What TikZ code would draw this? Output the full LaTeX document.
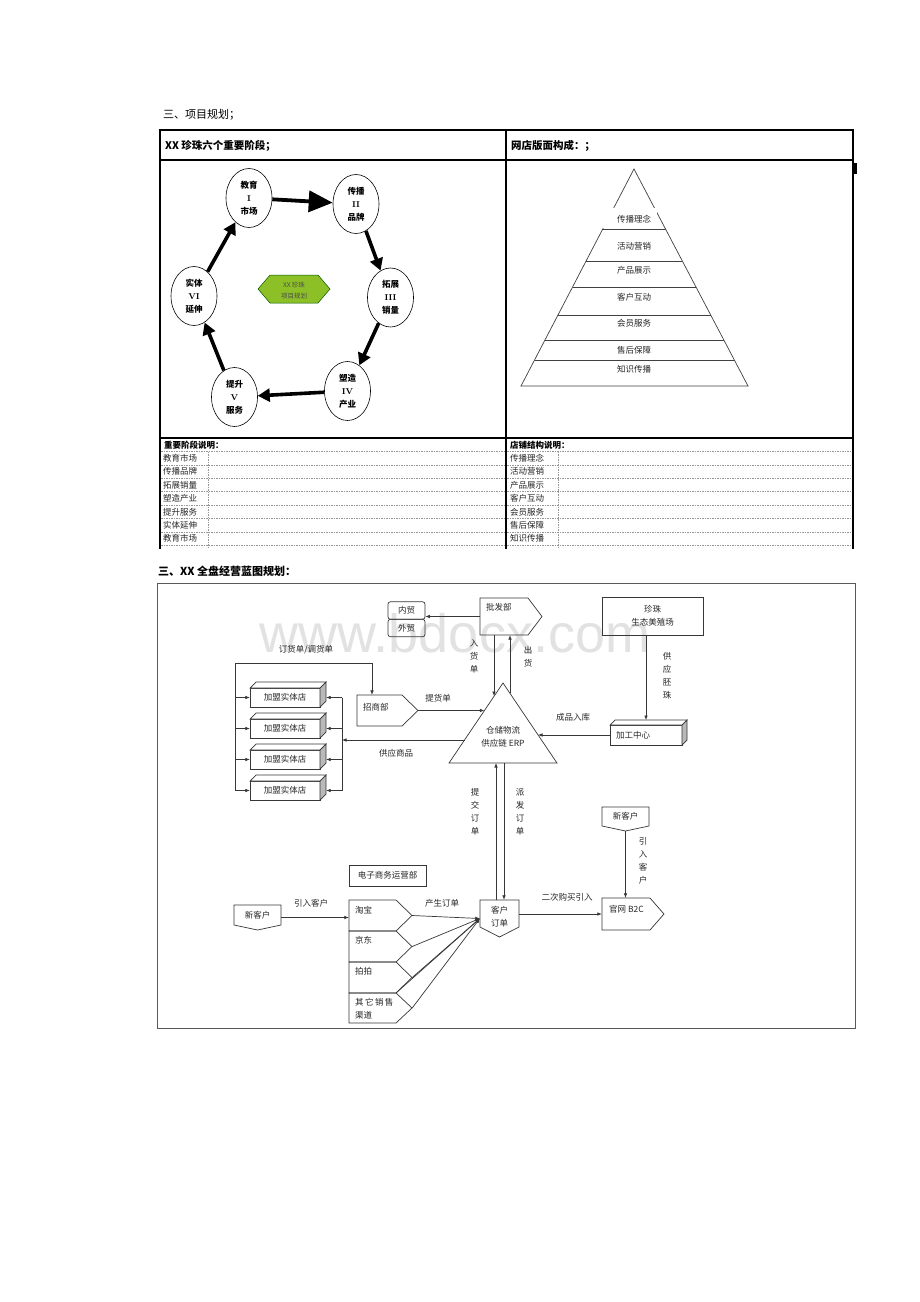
\documentclass[tikz,border=0pt]{standalone}
\usepackage{fontspec}
\newfontfamily\cjk{Noto Sans CJK SC}
\newfontfamily\wmfont{Liberation Sans}
\usetikzlibrary{arrows.meta,shapes.geometric,fit,calc}
\definecolor{hexgreen}{RGB}{140,192,38}
\definecolor{lin}{RGB}{55,55,55}
\definecolor{wmgray}{RGB}{226,226,226}
\definecolor{dashgray}{RGB}{150,150,150}
\tikzset{
  lbl/.style={font=\cjk\fontsize{8.5}{13}\selectfont, inner sep=0pt, text=black!85},
  boldlbl/.style={font=\cjk\bfseries\fontsize{8.5}{13}\selectfont, inner sep=0pt},
  hdr/.style={font=\cjk\bfseries\fontsize{10.5}{13}\selectfont, inner sep=0pt, anchor=west},
  shp/.style={draw=lin, line width=0.7pt},
  ln/.style={draw=lin, line width=0.7pt},
  arr/.style={ln, -{Latex[length=4.5pt,width=3.6pt]}},
  tb/.style={draw=black, line width=2.3pt},
  rowdash/.style={draw=dashgray, line width=0.5pt, dash pattern=on 1.5pt off 1pt},
  cyc/.style={ellipse, draw=black, line width=0.6pt, minimum width=46, minimum height=59, inner sep=0pt, align=center, font=\cjk\bfseries\fontsize{8.5}{13}\selectfont},
  bigarr/.style={line width=3.6pt, -{Triangle[length=12pt,width=13pt]}},
}
\newcommand\rpent[6]{%
  \node[fit={(#2,#3)(#4,#5)},inner sep=0pt] (#1) {};
  \draw[shp] (#2,#3) -- (#6,#3) -- (#4,{(#3+#5)/2}) -- (#6,#5) -- (#2,#5) -- cycle;}
\newcommand\dpent[6]{%
  \node[fit={(#2,#3)(#4,#5)},inner sep=0pt] (#1) {};
  \draw[shp] (#2,#3) -- (#4,#3) -- (#4,#6) -- ({(#2+#4)/2},#5) -- (#2,#6) -- cycle;}
\newcommand\cubox[6]{%
  \node[fit={(#2,#3)({#4+#6},#5)},inner sep=0pt] (#1) {};
  \draw[shp,fill=white] (#2,#3) rectangle (#4,#5);
  \draw[shp,fill=white] (#2,#3) -- ({#2+#6},{#3-#6}) -- ({#4+#6},{#3-#6}) -- (#4,#3) -- cycle;
  \draw[shp,fill=gray!55] (#4,#3) -- ({#4+#6},{#3-#6}) -- ({#4+#6},{#5-#6}) -- (#4,#5) -- cycle;}
\begin{document}
\begin{tikzpicture}[x=1pt,y=-1pt]
\useasboundingbox (0,0) rectangle (920,1302);
\fill[white] (0,0) rectangle (920,1302);

% ---------------- Section 1 ----------------
\node[font=\cjk\fontsize{11}{13}\selectfont, inner sep=0pt, anchor=west] (title1) at (163,115) {三、项目规划；};

% table frame
\draw[tb] (158.9,130) -- (854.1,130);
\draw[tb] (160,130) -- (160,549);
\draw[tb] (853,130) -- (853,549);
\draw[tb] (506,130) -- (506,549);
\draw[tb] (160,160) -- (853,160);
\draw[black, line width=1.2pt] (160,438) -- (853,438);
\draw[line width=2.5pt] (855.5,163) -- (855.5,174);

\node[hdr] (h1) at (165,146) {XX 珍珠六个重要阶段；};
\node[hdr] (h2) at (511,146) {网店版面构成：；};

% cycle of six stages
\node[cyc] (e1) at (249,198) {教育\\{\rmfamily\bfseries I}\\市场};
\node[cyc] (e2) at (356,204) {传播\\{\rmfamily\bfseries II}\\品牌};
\node[cyc] (e3) at (390.5,297.5) {拓展\\{\rmfamily\bfseries III}\\销量};
\node[cyc] (e4) at (347.5,391) {塑造\\{\rmfamily\bfseries IV}\\产业};
\node[cyc] (e5) at (234.5,397) {提升\\{\rmfamily\bfseries V}\\服务};
\node[cyc] (e6) at (194,296) {实体\\{\rmfamily\bfseries VI}\\延伸};
\draw[line width=3.8pt, -{Triangle[length=24pt,width=21pt]}] (e1) -- (e2);
\draw[bigarr] (e2) -- (e3);
\draw[bigarr] (e3) -- (e4);
\draw[bigarr] (e4) -- (e5);
\draw[bigarr] (e5) -- (e6);
\draw[bigarr] (e6) -- (e1);

\fill[hexgreen, draw=green!35!black, line width=0.5pt] (258,289) -- (270,275) -- (318,275) -- (330,289) -- (318,303) -- (270,303) -- cycle;
\node[font=\cjk\fontsize{6.5}{11}\selectfont, text=black!70, align=center, inner sep=0pt] (hex) at (294,290.5) {XX 珍珠\\项目规划};

% pyramid
\draw[line width=0.7pt, draw=black!75] (634,169) -- (748,386) -- (521,386) -- cycle;
\foreach \yy in {229,261,287,315,340,360}
  \draw[line width=0.7pt, draw=black!75] ({634-(\yy-169)/217*113},\yy) -- ({634+(\yy-169)/217*114},\yy);
\fill[white] (600,208) rectangle (657,228);
\node[lbl] (p1) at (634,219) {传播理念};
\node[lbl] (p2) at (634,246) {活动营销};
\node[lbl] (p3) at (634,270) {产品展示};
\node[lbl] (p4) at (634,297) {客户互动};
\node[lbl] (p5) at (634,323) {会员服务};
\node[lbl] (p6) at (634,350) {售后保障};
\node[lbl] (p7) at (634,369) {知识传播};

% sub tables
\node[boldlbl, anchor=west] (sh1) at (164,445) {重要阶段说明：};
\node[boldlbl, anchor=west] (sh2) at (510,445) {店铺结构说明：};
\foreach \i in {0,...,7} {
  \draw[rowdash] (161.2,{451.5+13.4*\i}) -- (504.8,{451.5+13.4*\i});
  \draw[rowdash] (507.2,{451.5+13.4*\i}) -- (851.8,{451.5+13.4*\i});
}
\draw[rowdash] (208,451.5) -- (208,549);
\draw[rowdash] (558,451.5) -- (558,549);
\foreach \t [count=\i from 0] in {教育市场,传播品牌,拓展销量,塑造产业,提升服务,实体延伸,教育市场}
  \node[lbl, anchor=west] (la\i) at (163,{458.2+13.4*\i}) {\t};
\foreach \t [count=\i from 0] in {传播理念,活动营销,产品展示,客户互动,会员服务,售后保障,知识传播}
  \node[lbl, anchor=west] (lb\i) at (510,{458.2+13.4*\i}) {\t};

% ---------------- Section 2 ----------------
\node[font=\cjk\bfseries\fontsize{11}{13}\selectfont, inner sep=0pt, anchor=west] (title2) at (158,571) {三、XX 全盘经营蓝图规划：};
\draw[draw=black!65, line width=0.8pt] (157,583) rectangle (855,1028);

% watermark
\node[font=\wmfont\fontsize{54}{54}\selectfont, text=wmgray, anchor=base, inner sep=0pt] (wm) at (455,652) {www.bdocx.com};

% nodes
\node[shp, rounded corners=2.5pt, minimum width=37, minimum height=17.5, inner sep=0pt, lbl] (nm) at (406.5,610.5) {内贸};
\node[shp, rounded corners=2.5pt, minimum width=37, minimum height=17.5, inner sep=0pt, lbl] (wmao) at (406.5,628) {外贸};
\rpent{pf}{480}{598}{542}{635}{528}
\node[lbl, anchor=west] (pft) at (486,607) {批发部};
\node[shp, minimum width=101, minimum height=38, inner sep=0pt, lbl, align=center] (zz) at (652.5,616) {珍珠\\生态美殖场};
\cubox{jg}{610}{725}{682}{745}{5}
\node[lbl, anchor=west] (jgt) at (616,735) {加工中心};
\draw[shp] (503,683) -- (557,763) -- (449,763) -- cycle;
\node[fit={(449,683)(557,763)}, inner sep=0pt] (erp) {};
\node[lbl, align=center] (erpt) at (503,736.5) {仓储物流\\供应链 ERP};
\rpent{zs}{357}{695}{418}{726}{402}
\node[lbl, anchor=west] (zst) at (363,707) {招商部};
\foreach \i/\ya/\yb/\ym in {1/688/707/697.5, 2/719/738/728.5, 3/750/769/759.5, 4/781/800/790.5} {
  \cubox{s\i}{250}{\ya}{320}{\yb}{6}
  \node[lbl] (st\i) at (285,\ym) {加盟实体店};
}
\dpent{ko}{480}{900}{519}{937}{927}
\node[lbl, align=center] (kot) at (499.5,916.5) {客户\\订单};
\node[shp, minimum width=77, minimum height=21, inner sep=0pt, lbl] (dz) at (387.5,875.5) {电子商务运营部};
\dpent{xk1}{234}{905}{281}{930}{925}
\node[lbl] (xk1t) at (257.5,915.5) {新客户};
\rpent{tb}{349}{900}{412}{931}{396}
\rpent{jd}{349}{931}{412}{962}{396}
\rpent{pp}{349}{962}{412}{993}{396}
\rpent{qt}{349}{993}{412}{1023}{396}
\node[lbl, anchor=west] (tbt) at (355,910) {淘宝};
\node[lbl, anchor=west] (jdt) at (355,940.5) {京东};
\node[lbl, anchor=west] (ppt) at (355,971.5) {拍拍};
\node[lbl, anchor=west, align=left] (qtt) at (355,1008.5) {其\,它\,销\,售\\渠道};
\dpent{xk2}{602}{807}{649}{831}{826}
\node[lbl] (xk2t) at (625.5,816.5) {新客户};
\rpent{gw}{602}{898}{664}{930}{650}
\node[lbl, anchor=west] (gwt) at (609,909) {官网 B2C};

% coordinates on the triangle
\coordinate (erpIn) at (494,696);
\coordinate (erpOut) at (510,693);
\coordinate (erpR) at (538,735);
\coordinate (erpZ) at (484.4,710.5);
\coordinate (erpS) at (464.5,740);
\coordinate (erpB1) at (496,763);
\coordinate (erpB2) at (504,763);
\coordinate (jgTop) at (646,720);
\coordinate (rb) at (342,740);
\coordinate (lbTop) at (372,663);
\coordinate (lbCorner) at (235,663);
\coordinate (qtc) at (396,993);

% connectors
\draw[arr] (pf.west) -- (pf.west -| nm.east);
\draw[arr] (pf.south -| erpIn) -- (erpIn);
\draw[arr] (erpOut) -- (erpOut |- pf.south);
\draw[arr] (zz.south -| jgTop) -- (jgTop);
\draw[arr] (jg.west) -- (erpR);
\draw[arr] (zs.east) -- (erpZ);
\draw[arr] (erpS) -- (rb);
\draw[ln] (s1.east -| rb) -- (s4.east -| rb);
\foreach \i in {1,...,4} \draw[arr] (s\i.east -| rb) -- (s\i.east);
\draw[ln] (lbCorner |- s4.west) -- (lbCorner) -- (lbTop);
\draw[arr] (lbTop) -- (lbTop |- zs.north);
\foreach \i in {1,...,4} \draw[arr] (s\i.west -| lbCorner) -- (s\i.west);
\draw[arr] (ko.north -| erpB1) -- (erpB1);
\draw[arr] (erpB2) -- (ko.north -| erpB2);
\draw[arr] (gw.west -| ko.east) -- (gw.west);
\draw[arr] (xk2.south) -- (xk2.south |- gw.north);
\draw[arr] (xk1.east) -- (xk1.east -| tb.west);
\foreach \c in {tb,jd,pp,qt} \draw[arr] (\c.east) -- (ko.west);
\draw[arr] (qtc) -- (ko.west);

% labels
\node[lbl] (l1) at (306,650) {订货单/调货单};
\node[lbl] (l2) at (438,698) {提货单};
\node[lbl] (l3) at (396,753) {供应商品};
\node[lbl] (l4) at (573,717) {成品入库};
\node[lbl, align=center] (l5) at (474,656.5) {入\\货\\单};
\node[lbl, align=center] (l6) at (528,657) {出\\货};
\node[lbl, align=center] (l7) at (667,676) {供\\应\\胚\\珠};
\node[lbl, align=center] (l8) at (475,811.5) {提\\交\\订\\单};
\node[lbl, align=center] (l9) at (520,811.5) {派\\发\\订\\单};
\node[lbl, align=center] (l10) at (643,861) {引\\入\\客\\户};
\node[lbl] (l11) at (311,903) {引入客户};
\node[lbl] (l12) at (442,903) {产生订单};
\node[lbl] (l13) at (567,897) {二次购买引入};
\end{tikzpicture}
\end{document}
